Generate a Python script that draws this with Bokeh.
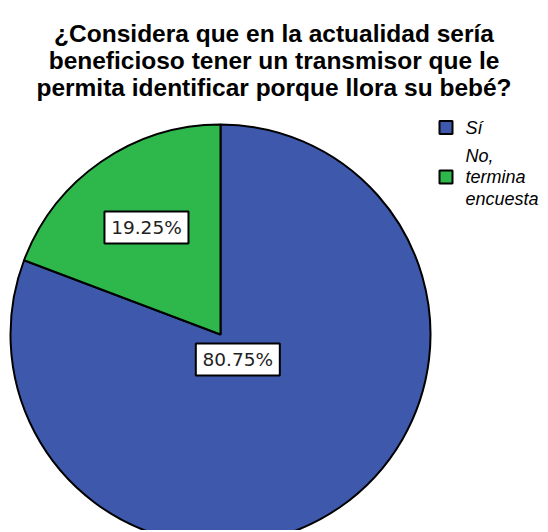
import math
from bokeh.plotting import figure
from bokeh.models import Range1d, ColumnDataSource
from bokeh.core.properties import value
from bokeh.embed import file_html
from bokeh.resources import INLINE

# ---- data ----
title_lines = [
    "¿Considera que en la actualidad sería",
    "beneficioso tener un transmisor que le",
    "permita identificar porque llora su bebé?",
]
categories = ["Sí", "No, termina encuesta"]
legend_lines = [["Sí"], ["No,", "termina", "encuesta"]]
percentages = [80.75, 19.25]
colors = ["#3E58AB", "#2EB84B"]

# ---- layout (screen pixel coords -> data coords: x = px, y = 532 - py) ----
W, H = 546, 530
def Y(page_y):
    return 532 - page_y

p = figure(width=W, height=H, output_backend="svg", toolbar_location=None,
           x_range=Range1d(0, W), y_range=Range1d(532 - H, 532),
           min_border=0)
p.axis.visible = False
p.grid.visible = False
p.outline_line_color = None
p.background_fill_color = "white"

cx, cy, R = 220, Y(334), 210

# wedges: start at 12 o'clock, green goes counter-clockwise, blue the rest
total = sum(percentages)
fr = [v / total for v in percentages]
order = [1, 0]
ang = {}
cur = math.pi / 2
for i in order:
    s = cur
    e = cur + fr[i] * 2 * math.pi
    ang[i] = (s, e)
    cur = e
starts = [ang[i][0] for i in range(len(categories))]
ends = [ang[i][1] for i in range(len(categories))]
mids = [(s + e) / 2 for s, e in zip(starts, ends)]

src = ColumnDataSource(dict(x=[cx] * 2, y=[cy] * 2, start=starts, end=ends, color=colors))
p.wedge(x="x", y="y", radius=R, start_angle="start", end_angle="end",
        fill_color="color", line_color="black", line_width=2, source=src)

# percentage labels
label_r = [0.145, 0.62]  # fraction of radius, per slice
lx = [cx + label_r[i] * R * math.cos(mids[i]) for i in range(2)]
ly = [cy + label_r[i] * R * math.sin(mids[i]) for i in range(2)]
ltxt = [f"{v:.2f}%" for v in percentages]
p.rect(x=lx, y=ly, width=84, height=32, width_units="screen", height_units="screen",
       fill_color="white", line_color="black", line_width=2)
p.text(x=lx, y=ly, text=ltxt, text_align="center", text_baseline="middle",
       text_font=value("DejaVu Sans"), text_font_size="18.5px", text_color="#222222")

# title
tb = [33, 60, 87]
p.text(x=[273.5] * 3, y=[Y(b) for b in tb], text=title_lines, text_align="center",
       text_baseline="alphabetic", text_font=value("Liberation Sans"),
       text_font_size="24.5px", text_font_style="bold", text_color="black")

# legend
sq_y = [127, 176.5]
p.scatter(x=[445.5] * 2, y=[Y(v) for v in sq_y], marker="square", size=13,
          fill_color=colors, line_color="black", line_width=2)
for i, lines in enumerate(legend_lines):
    n = len(lines)
    for j, t in enumerate(lines):
        yy = sq_y[i] + (j - (n - 1) / 2) * 21.5
        p.text(x=[465], y=[Y(yy)], text=[t], text_align="left", text_baseline="middle",
               text_font=value("Liberation Sans"), text_font_size="18px",
               text_font_style="italic", text_color="black")

open("out.html", "w").write(file_html(p, INLINE))
